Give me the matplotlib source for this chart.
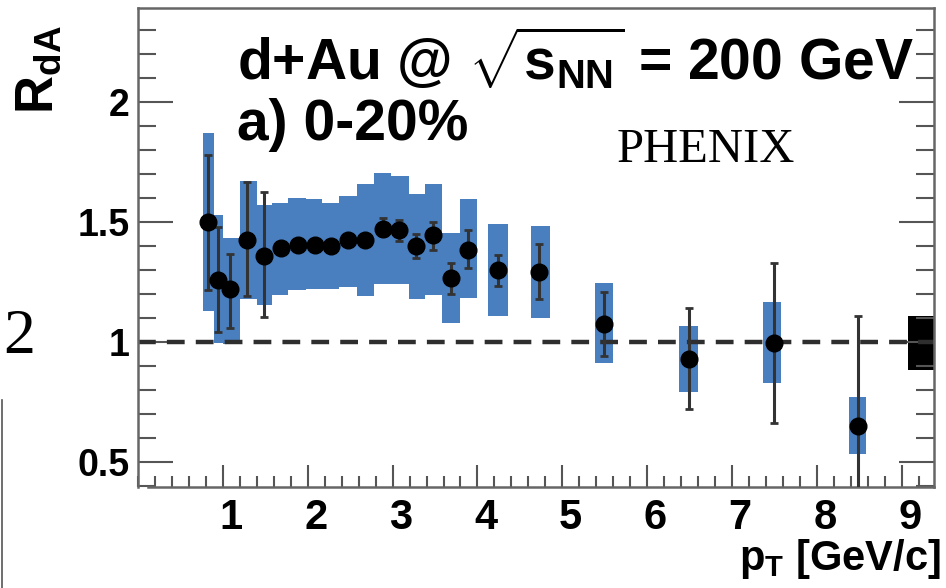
import matplotlib
matplotlib.use("Agg")
import matplotlib.pyplot as plt
import matplotlib.transforms as mtransforms
from matplotlib.lines import Line2D
from matplotlib.ticker import MultipleLocator

plt.rcParams['font.family'] = ['Liberation Sans', 'DejaVu Sans']
plt.rcParams['font.weight'] = 'bold'
plt.rcParams['mathtext.fontset'] = 'custom'
plt.rcParams['mathtext.rm'] = 'Liberation Sans:bold'
plt.rcParams['mathtext.it'] = 'Liberation Sans:bold'
plt.rcParams['mathtext.bf'] = 'Liberation Sans:bold'

# d+Au 0-20% R_dA vs pT
pt = [0.83, 0.94, 1.08, 1.29, 1.49, 1.69, 1.88, 2.08, 2.27, 2.48, 2.68, 2.89,
      3.08, 3.28, 3.48, 3.69, 3.89, 4.24, 4.73, 5.49, 6.49, 7.49, 8.49]
rda = [1.50, 1.26, 1.22, 1.425, 1.36, 1.39, 1.405, 1.405, 1.40, 1.425, 1.425, 1.47,
       1.465, 1.40, 1.445, 1.265, 1.385, 1.30, 1.29, 1.075, 0.93, 0.997, 0.651]
stat_hi = [1.78, 1.48, 1.367, 1.668, 1.626, 1.41, 1.42, 1.42, 1.41, 1.44, 1.44, 1.515,
           1.51, 1.45, 1.50, 1.33, 1.467, 1.362, 1.408, 1.207, 1.143, 1.33, 1.108]
stat_lo = [1.217, 1.043, 1.057, 1.19, 1.105, 1.37, 1.39, 1.39, 1.39, 1.41, 1.41, 1.44,
           1.42, 1.35, 1.383, 1.20, 1.31, 1.235, 1.18, 0.942, 0.72, 0.664, 0.30]

# systematic boxes (bin edges and range)
sys_left = [0.765, 0.89, 1.005, 1.2, 1.4, 1.58, 1.77, 1.98, 2.17, 2.37, 2.58, 2.78,
            2.98, 3.19, 3.38, 3.58, 3.79, 4.12, 4.63, 5.38, 6.37, 7.37, 8.38]
sys_right = [0.89, 1.005, 1.2, 1.4, 1.58, 1.77, 1.98, 2.17, 2.37, 2.58, 2.78, 2.98,
             3.19, 3.38, 3.58, 3.79, 4.0, 4.36, 4.85, 5.60, 6.60, 7.58, 8.58]
sys_hi = [1.87, 1.53, 1.435, 1.672, 1.57, 1.58, 1.60, 1.595, 1.58, 1.61, 1.657, 1.706,
          1.69, 1.615, 1.657, 1.455, 1.595, 1.49, 1.483, 1.245, 1.068, 1.168, 0.77]
sys_lo = [1.13, 0.995, 0.99, 1.18, 1.154, 1.196, 1.217, 1.22, 1.22, 1.23, 1.19, 1.24,
          1.24, 1.18, 1.196, 1.08, 1.185, 1.108, 1.10, 0.911, 0.79, 0.828, 0.533]

# global normalization uncertainty
norm_lo = 0.885
norm_hi = 1.11

xticks = [1, 2, 3, 4, 5, 6, 7, 8, 9]
yticks = [0.5, 1, 1.5, 2]
ytick_labels = ['0.5', '1', '1.5', '2']

W, H = 946, 588
fig = plt.figure(figsize=(W / 100, H / 100), dpi=100)
ax = fig.add_axes([138 / W, 1 - 487 / H, (934 - 138) / W, (487 - 8) / H])
ax.set_xlim(0, 9.38)
ax.set_ylim(0.396, 2.392)

blue = '#4a7fbf'
widths = [r - l for l, r in zip(sys_left, sys_right)]
heights = [h - l for l, h in zip(sys_lo, sys_hi)]
ax.bar(sys_left, heights, width=widths, bottom=sys_lo, align='edge',
       color=blue, linewidth=0, zorder=1)

ax.bar([9.07], [norm_hi - norm_lo], width=[9.38 - 9.07], bottom=[norm_lo],
       align='edge', color='black', linewidth=0, zorder=1)

ax.axhline(1.0, color='#2e2e2e', lw=3.2, dashes=(4, 2.5), zorder=2)

yerr = [[y - lo for y, lo in zip(rda, stat_lo)], [hi - y for y, hi in zip(rda, stat_hi)]]
ax.errorbar(pt, rda, yerr=yerr, fmt='o', color='black', ms=12,
            ecolor='#333333', elinewidth=2.2, capsize=3, capthick=2, zorder=3)

# axes styling, ROOT-like
for side in ['left', 'right', 'top', 'bottom']:
    ax.spines[side].set_color('#666666')
    ax.spines[side].set_linewidth(1.8)
ax.spines['bottom'].set_bounds(0.12, 9.38)

ax.xaxis.set_minor_locator(MultipleLocator(0.2))
ax.set_xticks(xticks)
ax.set_xticklabels([str(t) for t in xticks])
ax.yaxis.set_minor_locator(MultipleLocator(0.1))
ax.set_yticks(yticks)
ax.set_yticklabels(ytick_labels)

ax.tick_params(axis='y', which='major', direction='in', length=25, width=1.5,
               color='#555555', right=True, labelsize=27, pad=6)
ax.tick_params(axis='y', which='minor', direction='in', length=13, width=1.5,
               color='#555555', right=True)
ax.tick_params(axis='x', which='major', direction='in', length=16, width=1.5,
               color='#555555', top=False, labelsize=30, pad=8)
ax.tick_params(axis='x', which='minor', direction='in', length=8, width=1.5,
               color='#555555', top=False)

offset = mtransforms.ScaledTranslation(0.08, 0, fig.dpi_scale_trans)
for lab in ax.get_xticklabels():
    lab.set_transform(lab.get_transform() + offset)

# labels and annotations
fig.text(64 / W, 1 - 114 / H, r'R$_{\mathrm{dA}}$', rotation=90, fontsize=38,
         ha='right', va='bottom')
fig.text(941 / W, 1 - 570 / H, r'p$_{\mathrm{T}}$ [GeV/c]', fontsize=30,
         ha='right', va='baseline')

fig.text(237 / W, 1 - 80 / H, r'd+Au @ $\sqrt{\mathrm{s}_{\mathrm{NN}}}$ = 200 GeV',
         fontsize=41, ha='left', va='baseline')
fig.text(237 / W, 1 - 140 / H, 'a) 0-20%', fontsize=41, ha='left', va='baseline')
fig.text(617 / W, 1 - 162 / H, 'PHENIX', fontsize=35, family='Liberation Serif',
         weight='normal', ha='left', va='baseline')

# pieces of the neighbouring panel
fig.text(3 / W, 1 - 353 / H, '2', fontsize=46, family='Liberation Serif',
         weight='normal', ha='left', va='baseline')
fig.add_artist(Line2D([2 / W, 2 / W], [0, 1 - 400 / H], transform=fig.transFigure,
                      color='#555555', lw=1.2))

fig.savefig('out.png', dpi=100)
